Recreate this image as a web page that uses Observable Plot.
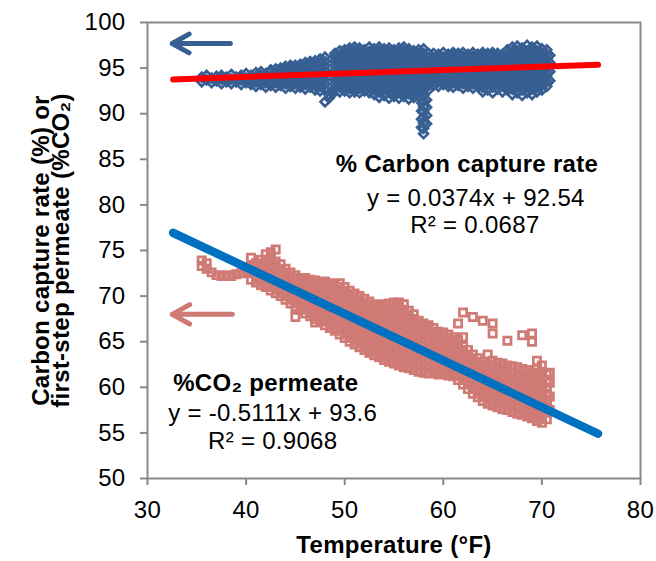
<!DOCTYPE html>
<html><head><meta charset="utf-8">
<script src="https://cdn.jsdelivr.net/npm/d3@7"></script>
<script src="https://cdn.jsdelivr.net/npm/@observablehq/plot@0.6"></script>
<style>
body{margin:0;background:#fff;}
#chart{width:656px;height:561px;}
</style></head><body><div id="chart"></div>
<script>
// ---- data ----
const xTicks = [30, 40, 50, 60, 70, 80];
const yTicks = [50, 55, 60, 65, 70, 75, 80, 85, 90, 95, 100];

// % carbon capture rate: [temperature, values...]
const captureColumns = [
  [35.5, 93.5, 94.0],
  [36, 93.7, 94.2],
  [36.5, 93.4, 93.9],
  [37, 93.6, 94.1],
  [37.5, 93.3, 93.8, 94.2],
  [38, 93.5, 94.0],
  [38.5, 93.3, 93.8, 94.3],
  [39, 93.5, 94.0],
  [39.5, 93.2, 93.7, 94.2],
  [40, 93.4, 93.9, 94.4],
  [40.5, 93.2, 93.7, 94.2],
  [41, 93.0, 93.5, 94.0, 94.5],
  [41.5, 93.2, 93.7, 94.2, 94.6],
  [42, 92.9, 93.4, 93.9, 94.4],
  [42.5, 93.1, 93.6, 94.1, 94.6, 94.8],
  [43, 92.9, 93.4, 93.9, 94.4, 94.9],
  [43.5, 93.1, 93.6, 94.1, 94.6, 95.0],
  [44, 92.8, 93.3, 93.8, 94.3, 94.8, 95.2],
  [44.5, 93.0, 93.5, 94.0, 94.5, 95.0, 95.3],
  [45, 92.8, 93.3, 93.8, 94.3, 94.8, 95.3],
  [45.5, 92.9, 93.4, 93.9, 94.4, 94.9, 95.4],
  [46, 92.7, 93.2, 93.7, 94.2, 94.7, 95.2, 95.6],
  [46.5, 92.9, 93.4, 93.9, 94.4, 94.9, 95.4, 95.7],
  [47, 92.6, 93.1, 93.6, 94.1, 94.6, 95.1, 95.6, 95.8],
  [47.5, 92.5, 93.0, 93.5, 94.0, 94.5, 95.0, 95.5, 96.0],
  [48, 91.3, 92.7, 93.2, 93.7, 94.2, 94.7, 95.2, 95.7, 96.2],
  [48.4, 91.7, 92.1],
  [48.8, 92.2, 92.6],
  [49, 92.8, 93.3, 93.8, 94.3, 94.8, 95.3, 95.8, 96.3, 96.6],
  [49.5, 92.4, 92.9, 93.4, 93.9, 94.4, 94.9, 95.4, 95.9, 96.4, 96.9],
  [50, 92.5, 93.0, 93.5, 94.0, 94.5, 95.0, 95.5, 96.0, 96.5, 97.0],
  [50.5, 92.3, 92.8, 93.3, 93.8, 94.3, 94.8, 95.3, 95.8, 96.3, 96.8, 97.2],
  [51, 92.4, 92.9, 93.4, 93.9, 94.4, 94.9, 95.4, 95.9, 96.4, 96.9, 97.3],
  [51.5, 92.3, 92.8, 93.3, 93.8, 94.3, 94.8, 95.3, 95.8, 96.3, 96.8, 97.2],
  [52, 92.5, 93.0, 93.5, 94.0, 94.5, 95.0, 95.5, 96.0, 96.5, 97.0],
  [52.5, 92.3, 92.8, 93.3, 93.8, 94.3, 94.8, 95.3, 95.8, 96.3, 96.8, 97.3],
  [53, 92.1, 92.6, 93.1, 93.6, 94.1, 94.6, 95.1, 95.6, 96.1, 96.6, 97.1],
  [53.5, 91.8, 92.4, 92.9, 93.4, 93.9, 94.4, 94.9, 95.4, 95.9, 96.4, 96.9, 97.3],
  [54, 92.0, 92.6, 93.1, 93.6, 94.1, 94.6, 95.1, 95.6, 96.1, 96.6, 97.1],
  [54.5, 91.7, 92.3, 92.8, 93.3, 93.8, 94.3, 94.8, 95.3, 95.8, 96.3, 96.8, 97.2],
  [55, 91.9, 92.5, 93.0, 93.5, 94.0, 94.5, 95.0, 95.5, 96.0, 96.5, 97.0],
  [55.5, 91.7, 92.3, 92.8, 93.3, 93.8, 94.3, 94.8, 95.3, 95.8, 96.3, 96.8, 97.2],
  [56, 91.9, 92.4, 92.9, 93.4, 93.9, 94.4, 94.9, 95.4, 95.9, 96.4, 96.9, 97.3],
  [56.5, 91.6, 92.2, 92.7, 93.2, 93.7, 94.2, 94.7, 95.2, 95.7, 96.2, 96.7, 97.1],
  [57, 91.8, 92.4, 92.9, 93.4, 93.9, 94.4, 94.9, 95.4, 95.9, 96.4, 96.9],
  [57.5, 91.9, 92.5, 93.0, 93.5, 94.0, 94.5, 95.0, 95.5, 96.0, 96.5, 97.0],
  [57.8, 88.5, 89.4, 90.3, 91.2],
  [58, 87.8, 88.4, 89.0, 89.6, 90.2, 90.8, 91.4, 92.0, 92.6, 93.1, 93.6, 94.1, 94.6, 95.1, 95.6, 96.1, 96.6, 97.1],
  [58.3, 88.9, 89.8, 90.7, 91.5],
  [58.5, 92.6, 93.1, 93.6, 94.1, 94.6, 95.1, 95.6, 96.1, 96.6],
  [59, 93.1, 93.6, 94.1, 94.6, 95.1, 95.6, 96.1, 96.6],
  [59.5, 93.0, 93.5, 94.0, 94.5, 95.0, 95.5, 96.0, 96.5],
  [60, 93.2, 93.7, 94.2, 94.7, 95.2, 95.7, 96.2, 96.7],
  [60.5, 93.0, 93.5, 94.0, 94.5, 95.0, 95.5, 96.0, 96.5],
  [61, 92.9, 93.4, 93.9, 94.4, 94.9, 95.4, 95.9, 96.4, 96.7],
  [61.5, 93.1, 93.6, 94.1, 94.6, 95.1, 95.6, 96.1, 96.6],
  [62, 92.8, 93.3, 93.8, 94.3, 94.8, 95.3, 95.8, 96.3, 96.7],
  [62.5, 93.0, 93.5, 94.0, 94.5, 95.0, 95.5, 96.0, 96.5],
  [63, 92.8, 93.3, 93.8, 94.3, 94.8, 95.3, 95.8, 96.3, 96.7],
  [63.5, 93.0, 93.5, 94.0, 94.5, 95.0, 95.5, 96.0, 96.5],
  [64, 92.4, 92.9, 93.4, 93.9, 94.4, 94.9, 95.4, 95.9, 96.4, 96.7],
  [64.5, 92.6, 93.2, 93.7, 94.2, 94.7, 95.2, 95.7, 96.2, 96.6],
  [65, 92.3, 92.9, 93.4, 93.9, 94.4, 94.9, 95.4, 95.9, 96.4, 96.7],
  [65.5, 92.7, 93.2, 93.7, 94.2, 94.7, 95.2, 95.7, 96.2, 96.6],
  [66, 92.4, 93.0, 93.5, 94.0, 94.5, 95.0, 95.5, 96.0, 96.5],
  [66.5, 92.6, 93.1, 93.6, 94.1, 94.6, 95.1, 95.6, 96.1, 96.6, 97.0],
  [67, 92.1, 92.7, 93.3, 93.8, 94.3, 94.8, 95.3, 95.8, 96.3, 96.8, 97.3],
  [67.5, 92.3, 92.9, 93.4, 93.9, 94.4, 94.9, 95.4, 95.9, 96.4, 96.9, 97.4],
  [68, 92.0, 92.6, 93.2, 93.7, 94.2, 94.7, 95.2, 95.7, 96.2, 96.7, 97.2],
  [68.5, 92.3, 92.9, 93.4, 93.9, 94.4, 94.9, 95.4, 95.9, 96.4, 96.9, 97.5],
  [69, 92.1, 92.7, 93.3, 93.8, 94.3, 94.8, 95.3, 95.8, 96.3, 96.8, 97.3],
  [69.5, 92.4, 92.9, 93.4, 93.9, 94.4, 94.9, 95.4, 95.9, 96.4, 96.9, 97.4],
  [70, 92.6, 93.1, 93.6, 94.1, 94.6, 95.1, 95.6, 96.1, 96.6, 97.1],
  [70.5, 93.0, 93.5, 94.0, 94.5, 95.0, 95.5, 96.0, 96.5, 97.0],
  [70.8, 93.6, 94.6, 95.6, 96.4]
];

// %CO2 permeate: [temperature, values...]
const permeateColumns = [
  [35.5, 73.9, 73.3],
  [36, 73.6, 73.0],
  [36.5, 72.6],
  [37, 72.3],
  [37.5, 72.2],
  [38, 72.3],
  [38.5, 72.2],
  [39, 72.4],
  [39.5, 72.5],
  [40, 72.7, 73.2],
  [40.5, 71.8, 72.5, 73.3, 74.2],
  [41, 71.5, 72.2, 72.9, 73.6],
  [41.5, 71.2, 71.9, 72.6, 73.3, 74.0],
  [42, 71.0, 71.7, 72.4, 73.1, 73.8, 74.6],
  [42.5, 70.6, 71.3, 72.0, 72.7, 73.4, 74.1, 74.8],
  [43, 70.3, 71.0, 71.7, 72.4, 73.1, 73.8, 75.1],
  [43.5, 70.0, 70.7, 71.4, 72.1, 72.8, 73.5],
  [44, 69.6, 70.3, 71.0, 71.7, 72.4, 73.0],
  [44.5, 69.2, 69.9, 70.6, 71.3, 72.0, 72.6],
  [45, 67.7, 68.8, 69.5, 70.2, 70.9, 71.6, 72.3],
  [45.5, 68.5, 69.2, 69.9, 70.6, 71.3, 72.0],
  [46, 68.1, 68.8, 69.5, 70.2, 70.9, 71.6, 72.0],
  [46.5, 67.8, 68.5, 69.2, 69.9, 70.6, 71.3, 71.8],
  [47, 67.1, 67.5, 68.2, 68.9, 69.6, 70.3, 71.0, 71.7],
  [47.5, 67.2, 67.9, 68.6, 69.3, 70.0, 70.7, 71.4],
  [48, 66.8, 67.5, 68.2, 68.9, 69.6, 70.3, 71.0, 71.6],
  [48.5, 66.5, 67.2, 67.9, 68.6, 69.3, 70.0, 70.7, 71.4],
  [49, 66.2, 66.9, 67.6, 68.3, 69.0, 69.7, 70.4, 71.1],
  [49.5, 65.8, 66.5, 67.2, 67.9, 68.6, 69.3, 70.0, 70.6, 71.4],
  [50, 65.4, 66.1, 66.8, 67.5, 68.2, 68.9, 69.6, 70.3, 71.0],
  [50.5, 65.0, 65.7, 66.4, 67.1, 67.8, 68.5, 69.2, 69.9, 70.6],
  [51, 64.7, 65.4, 66.1, 66.8, 67.5, 68.2, 68.9, 69.6, 70.3],
  [51.5, 64.4, 65.1, 65.8, 66.5, 67.2, 67.9, 68.6, 69.3, 70.0],
  [52, 64.1, 64.8, 65.5, 66.2, 66.9, 67.6, 68.3, 69.0, 69.7],
  [52.5, 63.8, 64.5, 65.2, 65.9, 66.6, 67.3, 68.0, 68.7, 69.4],
  [53, 63.5, 64.2, 64.9, 65.6, 66.3, 67.0, 67.7, 68.4, 69.1],
  [53.5, 63.3, 64.0, 64.7, 65.4, 66.1, 66.8, 67.5, 68.2, 68.9],
  [54, 63.0, 63.7, 64.4, 65.1, 65.8, 66.5, 67.2, 67.9, 68.6, 69.1],
  [54.5, 62.8, 63.5, 64.2, 64.9, 65.6, 66.3, 67.0, 67.7, 68.4, 69.2],
  [55, 62.6, 63.3, 64.0, 64.7, 65.4, 66.1, 66.8, 67.5, 68.2, 69.3],
  [55.5, 62.4, 63.1, 63.8, 64.5, 65.2, 65.9, 66.6, 67.3, 68.0, 68.8, 69.3],
  [56, 62.2, 62.9, 63.6, 64.3, 65.0, 65.7, 66.4, 67.1, 67.8, 68.5, 69.1],
  [56.5, 62.1, 62.8, 63.5, 64.2, 64.9, 65.6, 66.3, 67.0, 67.7, 68.4],
  [57, 61.9, 62.6, 63.3, 64.0, 64.7, 65.4, 66.1, 66.8, 67.5, 68.0],
  [57.5, 61.7, 62.4, 63.1, 63.8, 64.5, 65.2, 65.9, 66.6, 67.3],
  [58, 61.6, 62.3, 63.0, 63.7, 64.4, 65.1, 65.8, 66.5, 67.0],
  [58.5, 61.5, 62.2, 62.9, 63.6, 64.3, 65.0, 65.7, 66.4, 66.8],
  [59, 61.6, 62.3, 63.0, 63.7, 64.4, 65.1, 65.8, 66.5],
  [59.5, 61.4, 61.9, 62.6, 63.3, 64.0, 64.7, 65.4, 66.1],
  [60, 61.5, 61.8, 62.5, 63.2, 63.9, 64.6, 65.3, 66.0],
  [60.5, 61.3, 61.6, 62.3, 63.0, 63.7, 64.4, 65.1, 65.8],
  [61, 61.2, 61.4, 62.1, 62.8, 63.5, 64.2, 64.9, 65.5],
  [61.5, 60.8, 61.3, 61.8, 62.5, 63.2, 63.9, 64.6, 65.2, 67.0],
  [62, 60.3, 61.0, 61.7, 62.4, 63.1, 63.8, 64.5, 65.5, 68.2],
  [62.5, 59.8, 60.5, 61.2, 61.9, 62.6, 63.3, 64.1],
  [63, 59.3, 60.0, 60.7, 61.4, 62.1, 62.8, 63.6, 67.7],
  [63.5, 58.9, 59.6, 60.3, 61.0, 61.7, 62.4, 63.2],
  [64, 58.5, 59.2, 59.9, 60.6, 61.3, 62.0, 62.8, 67.3],
  [64.5, 58.2, 58.9, 59.6, 60.3, 61.0, 61.7, 62.5, 63.6],
  [65, 58.0, 58.7, 59.4, 60.1, 60.8, 61.5, 62.2, 62.9, 65.9, 67.0],
  [65.5, 57.8, 58.5, 59.2, 59.9, 60.6, 61.3, 62.0, 62.7],
  [66, 57.6, 58.3, 59.0, 59.7, 60.4, 61.1, 61.8, 62.6],
  [66.5, 57.5, 58.2, 58.9, 59.6, 60.3, 61.0, 61.7, 62.4, 65.1],
  [67, 57.3, 58.0, 58.7, 59.4, 60.1, 60.8, 61.5, 62.3],
  [67.5, 57.1, 57.8, 58.5, 59.2, 59.9, 60.6, 61.3, 62.2],
  [68, 57.0, 57.7, 58.4, 59.1, 59.8, 60.5, 61.2, 62.0, 65.7],
  [68.5, 56.8, 57.5, 58.2, 58.9, 59.6, 60.3, 61.0, 61.9],
  [69, 56.6, 57.3, 58.0, 58.7, 59.4, 60.1, 60.8, 61.6, 65.0, 65.9],
  [69.5, 56.3, 57.0, 57.7, 58.4, 59.1, 59.8, 60.5, 61.2, 62.0, 62.9],
  [70, 56.1, 56.8, 57.5, 58.2, 58.9, 59.6, 60.3, 61.0, 61.7, 62.4],
  [70.5, 56.5, 57.2, 57.9, 58.6, 59.3, 60.0, 60.7, 61.4],
  [70.8, 57.5, 59.0, 60.5, 61.6]
];

// linear trendlines (from the fitted equations)
const trendTemps = [32.6, 75.7];
const captureTrend = [93.76, 95.37];
const permeateTrend = [76.94, 54.91];

// "read this axis" arrows: [x1, x2, y]
const captureArrow = [38.4, 32.5, 97.7];
const permeateArrow = [38.6, 32.5, 68.0];

// annotation texts with positions in data units
const boldLabels = [
  {t: 62.4, v: 84.5, text: "% Carbon capture rate"},
  {t: 42.0, v: 60.4, text: "%CO₂ permeate"}
];
const plainLabels = [
  {t: 63.3, v: 80.7, text: "y = 0.0374x + 92.54"},
  {t: 63.2, v: 77.8, text: "R² = 0.0687"},
  {t: 42.7, v: 57.2, text: "y = -0.5111x + 93.6"},
  {t: 42.7, v: 54.1, text: "R² = 0.9068"}
];
const xTitle = "Temperature (°F)";
const yTitle = "Carbon capture rate (%) or\nfirst-step permeate (%CO₂)";

// ---- build ----
const toRows = cols => cols.flatMap(([t, ...vs]) => vs.map(v => ({t, v})));
const captureRows = toRows(captureColumns);
const permeateRows = toRows(permeateColumns);
const trendRows = trendTemps.map((t, i) => ({t, cap: captureTrend[i], per: permeateTrend[i]}));

const blue = "#375F92", pink = "#D07A75";
const font = "'Liberation Sans', Arial, Helvetica, sans-serif";

const chart = Plot.plot({
  width: 656, height: 561,
  marginLeft: 147, marginRight: 16, marginTop: 22, marginBottom: 83,
  x: {domain: [30, 80]},
  y: {domain: [50, 100]},
  style: {fontFamily: font, fontSize: "24px", background: "#fff", color: "#000", letterSpacing: "0.3px"},
  marks: [
    Plot.axisX({ticks: xTicks, tickSize: 7, tickPadding: 15, stroke: "#898989", strokeWidth: 2, fill: "#000", label: null, fontSize: 24}),
    Plot.axisY({ticks: yTicks, tickSize: 7, tickPadding: 15, stroke: "#898989", strokeWidth: 2, fill: "#000", label: null, fontSize: 24}),
    Plot.dot(permeateRows, {x: "t", y: "v", symbol: "square", r: 4.1, stroke: pink, strokeWidth: 2.7, fill: "none"}),
    Plot.dot(captureRows, {x: "t", y: "v", symbol: "diamond2", r: 4.0, stroke: blue, strokeWidth: 2.7, fill: "none"}),
    Plot.line(trendRows, {x: "t", y: "per", stroke: "#0070C0", strokeWidth: 8.5, strokeLinecap: "round"}),
    Plot.line(trendRows, {x: "t", y: "cap", stroke: "#FF0000", strokeWidth: 6, strokeLinecap: "round"}),
    Plot.arrow([captureArrow], {x1: d => d[0], x2: d => d[1], y1: d => d[2], y2: d => d[2], stroke: blue, strokeWidth: 5, headLength: 9, headAngle: 58, strokeLinecap: "round"}),
    Plot.arrow([permeateArrow], {x1: d => d[0], x2: d => d[1], y1: d => d[2], y2: d => d[2], stroke: pink, strokeWidth: 5, headLength: 9, headAngle: 58, strokeLinecap: "round"}),
    Plot.text(boldLabels, {x: "t", y: "v", text: "text", fontSize: 24, fontWeight: "bold", fill: "#000", textAnchor: "middle", lineAnchor: "middle"}),
    Plot.text(plainLabels, {x: "t", y: "v", text: "text", fontSize: 24, fontWeight: "normal", fill: "#000", textAnchor: "middle", lineAnchor: "middle"}),
    Plot.text([xTitle], {frameAnchor: "bottom", dy: 67, fontSize: 24, fontWeight: "bold", textAnchor: "middle", lineAnchor: "middle", fill: "#000"}),
    Plot.text([yTitle], {frameAnchor: "left", dx: -95, rotate: -90, fontSize: 24, fontWeight: "bold", textAnchor: "middle", lineAnchor: "middle", lineHeight: 0.85, fill: "#000"}),
    Plot.frame({stroke: "#898989", strokeWidth: 2})
  ]
});
document.getElementById("chart").appendChild(chart);
</script></body></html>
